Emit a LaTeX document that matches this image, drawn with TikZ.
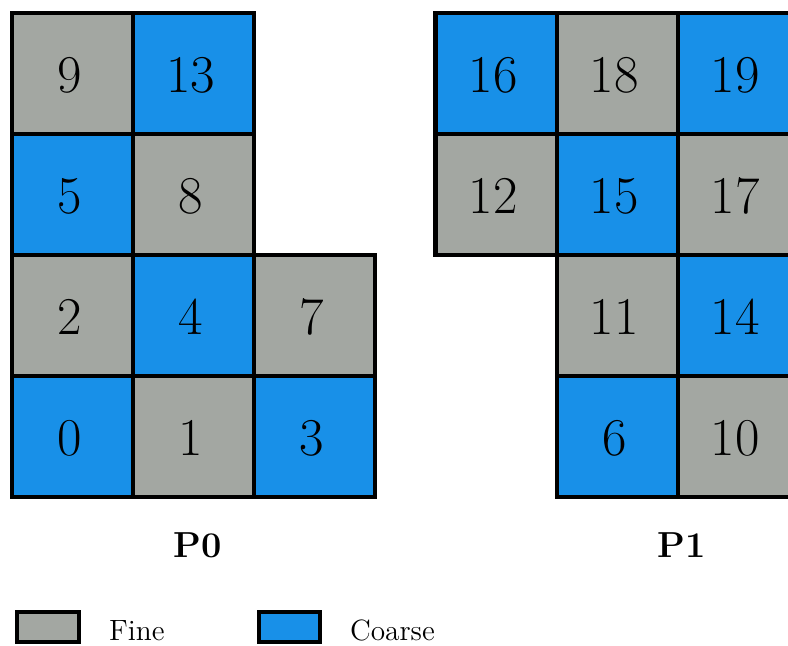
\documentclass[tikz,border=0pt]{standalone}
\usepackage{fontspec}
\definecolor{finegray}{RGB}{163,167,162}
\definecolor{coarseblue}{RGB}{24,144,232}
\tikzset{
  cell/.style={draw=black, line width=1.9pt, minimum size=2cm, inner sep=0pt,
    font=\fontsize{25}{30}\selectfont, text depth=0pt},
  fine/.style={cell, fill=finegray},
  coarse/.style={cell, fill=coarseblue},
  keybox/.style={draw=black, line width=1.9pt, minimum width=1.02cm, minimum height=0.5cm, inner sep=0pt},
  keytext/.style={anchor=base west, inner sep=0pt, font=\fontsize{13.8}{16}\selectfont},
  proc/.style={font=\fontsize{17}{20}\selectfont\bfseries}
}
\newcommand{\cellnum}[1]{\raisebox{-1.2pt}{\hspace*{-2.6pt}#1}}
\begin{document}
\begin{tikzpicture}[x=2cm,y=2cm]
\useasboundingbox (-0.0992,-1.231) rectangle (6.413,4.107);
% P0
\node[fine]   (c9)  at (0.5,3.5) {\cellnum{9}};
\node[coarse] (c13) at (1.5,3.5) {\cellnum{13}};
\node[coarse] (c5)  at (0.5,2.5) {\cellnum{5}};
\node[fine]   (c8)  at (1.5,2.5) {\cellnum{8}};
\node[fine]   (c2)  at (0.5,1.5) {\cellnum{2}};
\node[coarse] (c4)  at (1.5,1.5) {\cellnum{4}};
\node[fine]   (c7)  at (2.5,1.5) {\cellnum{7}};
\node[coarse] (c0)  at (0.5,0.5) {\cellnum{0}};
\node[fine]   (c1)  at (1.5,0.5) {\cellnum{1}};
\node[coarse] (c3)  at (2.5,0.5) {\cellnum{3}};
\node[proc] (p0) at (1.535,-0.40) {P0};
% P1
\node[coarse] (c16) at (4.0,3.5) {\cellnum{16}};
\node[fine]   (c18) at (5.0,3.5) {\cellnum{18}};
\node[coarse] (c19) at (6.0,3.5) {\cellnum{19}};
\node[fine]   (c12) at (4.0,2.5) {\cellnum{12}};
\node[coarse] (c15) at (5.0,2.5) {\cellnum{15}};
\node[fine]   (c17) at (6.0,2.5) {\cellnum{17}};
\node[fine]   (c11) at (5.0,1.5) {\cellnum{11}};
\node[coarse] (c14) at (6.0,1.5) {\cellnum{14}};
\node[coarse] (c6)  at (5.0,0.5) {\cellnum{6}};
\node[fine]   (c10) at (6.0,0.5) {\cellnum{10}};
\node[proc] (p1) at (5.535,-0.40) {P1};
% legend
\node[keybox, fill=finegray] (kfine) at (0.2975,-1.074) {};
\node[keytext] (tfine) at (0.80,-1.190) {Fine};
\node[keybox, fill=coarseblue] (kcoarse) at (2.2925,-1.074) {};
\node[keytext] (tcoarse) at (2.79,-1.190) {Coarse};
\end{tikzpicture}
\end{document}
